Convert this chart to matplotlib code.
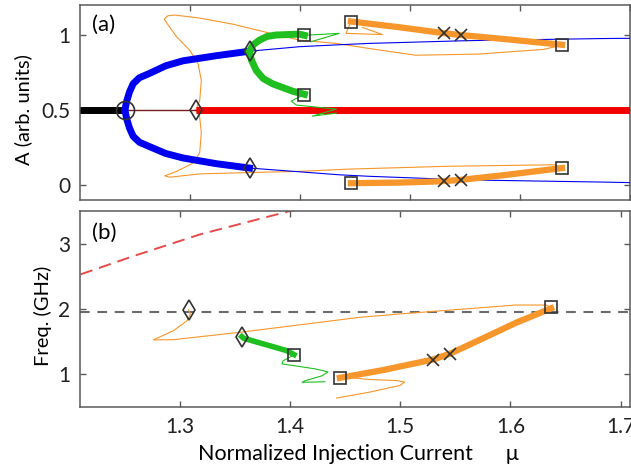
import matplotlib
matplotlib.use("Agg")
import matplotlib.pyplot as plt

plt.rcParams['font.family'] = ['Lato', 'DejaVu Sans']
plt.rcParams['lines.scale_dashes'] = False

# ---------------- panel (a): amplitude A vs mu ----------------
mu_cw_stable = [1.20, 1.241]
A_cw_stable = [0.5, 0.5]
mu_cw_unstable = [1.241, 1.305]
A_cw_unstable = [0.5, 0.5]
mu_cw_red = [1.305, 1.70]
A_cw_red = [0.5, 0.5]

mu_blue_up = [1.2408, 1.2425, 1.2450, 1.2483, 1.2540, 1.2635, 1.2780, 1.2937, 1.3240, 1.3541]
A_blue_up = [0.50, 0.56, 0.62, 0.675, 0.715, 0.745, 0.795, 0.828, 0.862, 0.892]
mu_blue_lo = [1.2408, 1.2425, 1.2450, 1.2483, 1.2540, 1.2635, 1.2780, 1.2937, 1.3240, 1.3541]
A_blue_lo = [0.50, 0.44, 0.38, 0.325, 0.285, 0.255, 0.21, 0.18, 0.142, 0.113]

mu_blue_thin_up = [1.3541, 1.3995, 1.4357, 1.4629, 1.5506, 1.6714, 1.70]
A_blue_thin_up = [0.892, 0.922, 0.935, 0.944, 0.962, 0.976, 0.978]
mu_blue_thin_lo = [1.3541, 1.3995, 1.4357, 1.4629, 1.5506, 1.6714, 1.70]
A_blue_thin_lo = [0.113, 0.088, 0.068, 0.058, 0.034, 0.020, 0.016]

mu_green_up = [1.3541, 1.3575, 1.3632, 1.3700, 1.3783, 1.3995, 1.404]
A_green_up = [0.892, 0.935, 0.966, 0.990, 1.000, 1.006, 0.998]
mu_green_lo = [1.3541, 1.3560, 1.3602, 1.3665, 1.3753, 1.3934, 1.404]
A_green_lo = [0.885, 0.830, 0.764, 0.710, 0.674, 0.625, 0.605]

mu_green_thin_up = [1.404, 1.4357, 1.410]
A_green_thin_up = [0.998, 1.011, 0.955]
mu_green_thin_lo = [1.404, 1.392, 1.3967, 1.433, 1.4112, 1.433]
A_green_thin_lo = [0.603, 0.560, 0.533, 0.506, 0.459, 0.479]

mu_orange_up = [1.4463, 1.490, 1.531, 1.546, 1.590, 1.6382]
A_orange_up = [1.090, 1.052, 1.012, 1.000, 0.970, 0.935]
mu_orange_lo = [1.4463, 1.490, 1.5264, 1.546, 1.5869, 1.6382]
A_orange_lo = [0.012, 0.016, 0.024, 0.034, 0.067, 0.113]

mu_orange_thin_max = [1.6382, 1.6216, 1.5626, 1.5053, 1.4629, 1.4327, 1.3995, 1.3693, 1.3390,
                      1.3088, 1.2861, 1.2798, 1.2766, 1.2789, 1.2877, 1.2997, 1.3073, 1.3103,
                      1.3088, 1.3052]
A_orange_thin_max = [0.933, 0.904, 0.873, 0.865, 0.910, 0.944, 0.966, 1.018, 1.072,
                     1.113, 1.133, 1.128, 1.106, 1.079, 0.989, 0.899, 0.809, 0.697,
                     0.562, 0.499]
mu_orange_thin_min = [1.3052, 1.3088, 1.3103, 1.3088, 1.3027, 1.2877, 1.2771, 1.2816, 1.3088,
                      1.3541, 1.3995, 1.4448, 1.5355, 1.6322, 1.6382]
A_orange_thin_min = [0.499, 0.452, 0.349, 0.214, 0.146, 0.090, 0.061, 0.052, 0.074,
                     0.083, 0.091, 0.106, 0.125, 0.135, 0.113]
mu_orange_thin_hook = [1.4463, 1.4418, 1.475, 1.4569]
A_orange_thin_hook = [1.090, 1.011, 1.003, 1.050]

mu_hopf1, A_hopf1 = 1.2408, 0.5
mu_diam_a = [1.3052, 1.3541, 1.3541]
A_diam_a = [0.5, 0.892, 0.113]
mu_sq_a = [1.404, 1.404, 1.4463, 1.4463, 1.6382, 1.6382]
A_sq_a = [0.998, 0.603, 1.090, 0.012, 0.935, 0.113]
mu_x_a = [1.531, 1.546, 1.531, 1.546]
A_x_a = [1.011, 1.000, 0.029, 0.034]

# ---------------- panel (b): frequency vs mu ----------------
mu_red_dash = [1.21, 1.258, 1.319, 1.40, 1.43]
F_red_dash = [2.53, 2.81, 3.145, 3.50, 3.62]
F_gray_dash = 1.96

mu_orange_thin_b = [1.6369, 1.6323, 1.6052, 1.4996, 1.4634, 1.4152, 1.3548, 1.2944, 1.2763,
                    1.2779, 1.2944, 1.3066, 1.3096, 1.308]
F_orange_thin_b = [2.026, 2.061, 2.061, 1.924, 1.873, 1.771, 1.644, 1.531, 1.527,
                   1.542, 1.669, 1.821, 1.924, 1.99]
mu_orange_thin_b2 = [1.4453, 1.4498, 1.4724, 1.4966, 1.5041, 1.4996, 1.4724, 1.4423]
F_orange_thin_b2 = [0.947, 0.957, 0.921, 0.905, 0.881, 0.829, 0.728, 0.637]
mu_orange_b = [1.4453, 1.4845, 1.5297, 1.5455, 1.575, 1.6052, 1.6369]
F_orange_b = [0.946, 1.065, 1.226, 1.318, 1.55, 1.79, 2.01]

mu_green_b = [1.3563, 1.3578, 1.397, 1.4037]
F_green_b = [1.577, 1.553, 1.363, 1.302]
mu_green_thin_b = [1.4037, 1.3937, 1.3928, 1.4046, 1.4227, 1.4345, 1.429, 1.4136, 1.4109, 1.4317]
F_green_thin_b = [1.298, 1.206, 1.160, 1.130, 1.084, 1.038, 0.977, 0.901, 0.878, 0.886]

mu_diam_b = [1.308, 1.3563]
F_diam_b = [1.99, 1.577]
mu_sq_b = [1.4037, 1.4453, 1.6369]
F_sq_b = [1.302, 0.947, 2.026]
mu_x_b = [1.5297, 1.5455]
F_x_b = [1.22, 1.318]

xticks = [1.3, 1.4, 1.5, 1.6, 1.7]
xticklabels = ['1.3', '1.4', '1.5', '1.6', '1.7']
yticks_a = [0, 0.5, 1]
yticklabels_a = ['0', '0.5', '1']
yticks_b = [1, 2, 3]
yticklabels_b = ['1', '2', '3']

# ---------------- styling ----------------
ORANGE = '#F7962A'
GREEN = '#1FBF1F'
BLUE = '#0000F0'
RED = '#F20000'
MK = '#333333'
SPINE = '#5a5a5a'

fig = plt.figure(figsize=(6.31, 4.68), dpi=100)
axa = fig.add_axes([80/631, 1 - 200/468, 550/631, 195/468])
axb = fig.add_axes([80/631, 1 - 407/468, 550/631, 196/468])

thick = 5.0
thin = 0.8

# panel (a)
axa.plot(mu_orange_thin_max, A_orange_thin_max, color=ORANGE, lw=thin, zorder=2)
axa.plot(mu_orange_thin_min, A_orange_thin_min, color=ORANGE, lw=thin, zorder=2)
axa.plot(mu_orange_thin_hook, A_orange_thin_hook, color=ORANGE, lw=thin, zorder=2)
axa.plot(mu_cw_stable, A_cw_stable, color='black', lw=thick, solid_capstyle='butt', zorder=3)
axa.plot(mu_cw_unstable, A_cw_unstable, color='#7a1a1a', lw=1.0, zorder=3)
axa.plot(mu_cw_red, A_cw_red, color=RED, lw=thick, solid_capstyle='butt', zorder=3)
axa.plot(mu_blue_up, A_blue_up, color=BLUE, lw=thick, zorder=3)
axa.plot(mu_blue_lo, A_blue_lo, color=BLUE, lw=thick, zorder=3)
axa.plot(mu_blue_thin_up, A_blue_thin_up, color=BLUE, lw=thin, zorder=3)
axa.plot(mu_blue_thin_lo, A_blue_thin_lo, color=BLUE, lw=thin, zorder=3)
axa.plot(mu_green_up, A_green_up, color=GREEN, lw=thick, zorder=4)
axa.plot(mu_green_lo, A_green_lo, color=GREEN, lw=thick, zorder=4)
axa.plot(mu_green_thin_up, A_green_thin_up, color=GREEN, lw=thin, zorder=4)
axa.plot(mu_green_thin_lo, A_green_thin_lo, color=GREEN, lw=thin, zorder=4)
axa.plot(mu_orange_up, A_orange_up, color=ORANGE, lw=4.5, zorder=4)
axa.plot(mu_orange_lo, A_orange_lo, color=ORANGE, lw=4.5, zorder=4)

axa.plot([mu_hopf1], [A_hopf1], 'o', ms=13, mfc='none', mec=MK, mew=1.2, zorder=6)
axa.plot(mu_diam_a, A_diam_a, 'd', ms=10, mfc='none', mec=MK, mew=1.2, ls='none', zorder=6)
axa.plot(mu_sq_a, A_sq_a, 's', ms=8.5, mfc='none', mec=MK, mew=1.2, ls='none', zorder=6)
axa.plot(mu_x_a, A_x_a, 'x', ms=9, mec=MK, mew=1.2, ls='none', zorder=6)

axa.set_xlim(1.2, 1.7)
axa.set_ylim(-0.1, 1.2)
axa.set_xticks(xticks)
axa.set_xticklabels([])
axa.set_yticks(yticks_a)
axa.set_yticklabels(yticklabels_a)
axa.set_ylabel('A (arb. units)', fontsize=14.5)
axa.yaxis.set_label_coords(-0.087, 0.465)
axa.text(0.022, 0.90, '(a)', transform=axa.transAxes, fontsize=16, va='center', ha='left')

# panel (b)
axb.axhline(F_gray_dash, color='#6a6a70', lw=1.5, dashes=(7, 5.5), zorder=1)
axb.plot(mu_red_dash, F_red_dash, color='#E84A4A', lw=1.4, dashes=(9, 5), zorder=1)
axb.plot(mu_orange_thin_b, F_orange_thin_b, color=ORANGE, lw=thin, zorder=2)
axb.plot(mu_orange_thin_b2, F_orange_thin_b2, color=ORANGE, lw=thin, zorder=2)
axb.plot(mu_green_thin_b, F_green_thin_b, color=GREEN, lw=thin, zorder=2)
axb.plot(mu_orange_b, F_orange_b, color=ORANGE, lw=4.5, zorder=3)
axb.plot(mu_green_b, F_green_b, color=GREEN, lw=4.0, zorder=3)

axb.plot(mu_diam_b, F_diam_b, 'd', ms=10, mfc='none', mec=MK, mew=1.2, ls='none', zorder=6)
axb.plot(mu_sq_b, F_sq_b, 's', ms=8.5, mfc='none', mec=MK, mew=1.2, ls='none', zorder=6)
axb.plot(mu_x_b, F_x_b, 'x', ms=9, mec=MK, mew=1.2, ls='none', zorder=6)

axb.set_xlim(1.2095, 1.7085)
axb.set_ylim(0.5, 3.5)
axb.set_xticks(xticks)
axb.set_xticklabels(xticklabels)
axb.set_yticks(yticks_b)
axb.set_yticklabels(yticklabels_b)
axb.set_ylabel('Freq. (GHz)', fontsize=14.5)
axb.yaxis.set_label_coords(-0.051, 0.464)
axb.set_xlabel('Normalized Injection Current      \u03bc', fontsize=15.5)
axb.xaxis.set_label_coords(0.506, -0.189)
axb.text(0.022, 0.89, '(b)', transform=axb.transAxes, fontsize=16, va='center', ha='left')

for ax in (axa, axb):
    for s in ax.spines.values():
        s.set_color(SPINE)
        s.set_linewidth(1.1)
    ax.tick_params(direction='in', length=4, width=1.0, color=SPINE, top=True, right=True,
                   labelsize=15, labelcolor='#222222')
    ax.tick_params(axis='y', pad=7)
    ax.tick_params(axis='x', pad=7)

fig.savefig('out.png', dpi=100)
